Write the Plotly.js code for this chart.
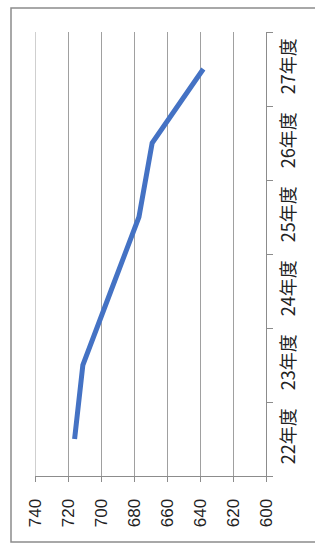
<!DOCTYPE html>
<html>
<head>
<meta charset="utf-8">
<script src="https://cdn.plot.ly/plotly-3.0.1.min.js"></script>
<style>html,body{margin:0;padding:0;background:#fff;}#chart{width:315px;height:549px;}</style>
</head>
<body>
<div id="chart"></div>
<script>
const categories = ["22年度", "23年度", "24年度", "25年度", "26年度", "27年度"];
const values = [716, 711, 694, 677, 669, 638];
const valueTicks = [740, 720, 700, 680, 660, 640, 620, 600];

const trace = {
  type: "scatter",
  mode: "lines",
  x: values,
  y: categories,
  line: {color: "#4472C4", width: 5},
  hoverinfo: "none"
};

const layout = {
  width: 315,
  height: 549,
  margin: {l: 35, r: 49, t: 32, b: 73},
  paper_bgcolor: "#ffffff",
  plot_bgcolor: "#ffffff",
  showlegend: false,
  font: {family: "'Liberation Sans', 'Noto Sans CJK JP', sans-serif", color: "#222222"},
  xaxis: {
    range: [740, 600],
    tickvals: valueTicks,
    ticktext: valueTicks.map(String),
    tickangle: -90,
    tickfont: {size: 17, color: "#222222"},
    showgrid: true,
    gridcolor: "#a0a0a0",
    gridwidth: 1,
    zeroline: false,
    showline: true,
    linecolor: "#8c8c8c",
    linewidth: 1,
    ticks: "outside",
    ticklen: 5,
    tickcolor: "#8c8c8c",
    ticklabelstandoff: 10,
    fixedrange: true
  },
  yaxis: {
    type: "category",
    categoryarray: categories,
    range: [-0.5, 5.5],
    side: "right",
    tickangle: -90,
    tickfont: {size: 18, color: "#222222", family: "'Noto Sans CJK JP', 'Liberation Sans', sans-serif"},
    tickson: "boundaries",
    ticks: "outside",
    ticklen: 6,
    tickcolor: "#8c8c8c",
    showgrid: false,
    showline: true,
    linecolor: "#8c8c8c",
    linewidth: 1,
    zeroline: false,
    ticklabelstandoff: 6,
    fixedrange: true
  },
  shapes: [
    {type: "rect", xref: "paper", yref: "paper",
     x0: -24 / 231, x1: 1 + 60 / 231, y0: -66 / 444, y1: 1 + 24 / 444,
     line: {color: "#8c8c8c", width: 1.5}, fillcolor: "rgba(0,0,0,0)", layer: "below"},
    {type: "line", xref: "x", yref: "paper",
     x0: valueTicks[0], x1: valueTicks[0], y0: 0, y1: 1,
     line: {color: "#a0a0a0", width: 1}, layer: "below"}
  ]
};

Plotly.newPlot("chart", [trace], layout, {displayModeBar: false, staticPlot: true});
</script>
</body>
</html>
